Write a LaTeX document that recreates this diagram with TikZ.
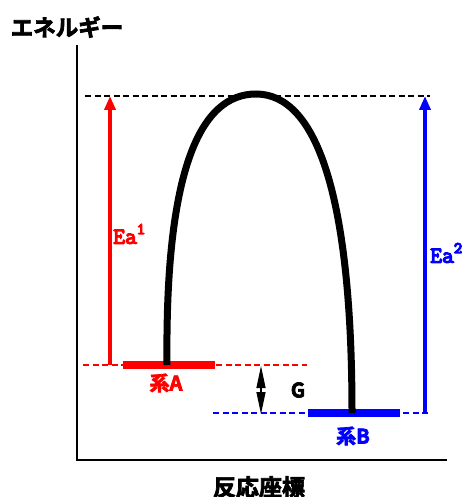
\documentclass[tikz,border=0pt]{standalone}
\usepackage{fontspec}
\newfontfamily\jp{Noto Sans CJK JP Bold}
\newfontfamily\monob{Latin Modern Mono}
\newcommand{\thick}[2]{\special{pdf:literal direct 2 Tr #1 w}#2\special{pdf:literal direct 0 Tr}}
\usetikzlibrary{arrows.meta}
\definecolor{myred}{RGB}{255,0,0}
\definecolor{myblue}{RGB}{0,0,255}
\tikzset{
  axis/.style={line width=2.6pt,black},
  lvldash/.style={line width=2.2pt,dash pattern=on 6pt off 3.5pt},
  lvlbar/.style={line width=8pt},
  eaarrow/.style={line width=3.5pt,-{Triangle[length=14pt,width=11pt]}},
  jplabel/.style={inner sep=0pt,font=\jp\fontsize{20}{22}\selectfont},
  ealabel/.style={inner sep=0pt,anchor=west,font=\monob\fontsize{23}{25}\selectfont},
  curve/.style={line width=7pt,black}
}
\begin{document}
\begin{tikzpicture}[x=1pt,y=-1pt]
\useasboundingbox (0,0) rectangle (469,497);
% axes
\coordinate (ytop) at (77,45);
\coordinate (orig) at (77,460);
\coordinate (xend) at (447,460);
\draw[axis] (ytop) -- (orig) -- (xend);
\node[jplabel,font=\jp\fontsize{22.5}{24}\selectfont] (ylab) at (67,27) {\thick{0.7}{エネルギー}};
\node[jplabel,font=\jp\fontsize{23}{25}\selectfont] (xlab) at (259,487) {\thick{0.7}{反応座標}};
% top dashed
\coordinate (tdl) at (85,96);
\coordinate (tdr) at (430,96);
\draw[lvldash,black] (tdl) -- (tdr);
% level A
\coordinate (adl) at (83,365);
\coordinate (adr) at (307,365);
\draw[lvldash,myred] (adl) -- (adr);
\coordinate (abl) at (123,365);
\coordinate (abr) at (215,365);
\draw[lvlbar,myred] (abl) -- (abr);
\node[jplabel,text=myred] (sysA) at (166,383) {\thick{0.7}{系A}};
% level B
\coordinate (bdl) at (213,413);
\coordinate (bdr) at (430,413);
\draw[lvldash,myblue] (bdl) -- (bdr);
\coordinate (bbl) at (308,413);
\coordinate (bbr) at (400,413);
\draw[lvlbar,myblue] (bbl) -- (bbr);
\node[jplabel,text=myblue] (sysB) at (353,436) {\thick{0.7}{系B}};
% Ea arrows
\coordinate (ra0) at (110,365);
\coordinate (ra1) at (110,96);
\draw[eaarrow,myred] (ra0) -- (ra1);
\node[ealabel,text=myred] (ea1) at (113,234) {\thick{1.2}{Ea\raisebox{0.42em}{\fontsize{16}{16}\selectfont 1}}};
\coordinate (ba0) at (425,413);
\coordinate (ba1) at (425,96);
\draw[eaarrow,myblue] (ba0) -- (ba1);
\node[ealabel,text=myblue] (ea2) at (430,253) {\thick{1.2}{Ea\raisebox{0.42em}{\fontsize{16}{16}\selectfont 2}}};
% G arrow
\coordinate (g0) at (261,366);
\coordinate (g1) at (261,414);
\draw[line width=1.2pt,{Triangle[length=22pt,width=9pt]}-{Triangle[length=22pt,width=9pt]}] (g0) -- (g1);
\node[jplabel] (glab) at (298,390) {\thick{0.7}{G}};
% curve
\coordinate (cA) at (167,365);
\coordinate (cT) at (256,94);
\coordinate (cB) at (352,413);
\draw[curve] (cA) .. controls (165,170) and (200,94) .. (cT)
  .. controls (318,94) and (352,200) .. (cB);
\end{tikzpicture}
\end{document}
